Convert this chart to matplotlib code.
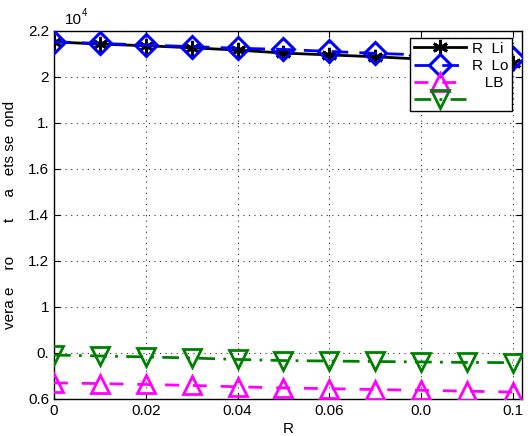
import matplotlib
matplotlib.use("Agg")
import matplotlib.pyplot as plt
import numpy as np

plt.rcParams['font.family'] = ['Liberation Sans', 'DejaVu Sans']

x = [0, 0.01, 0.02, 0.03, 0.04, 0.05, 0.06, 0.07, 0.08, 0.09, 0.1]
r_li = [2.153, 2.143, 2.136, 2.127, 2.117, 2.104, 2.096, 2.088, 2.078, 2.070, 2.060]
r_lo = [2.153, 2.146, 2.139, 2.132, 2.125, 2.120, 2.111, 2.103, 2.096, 2.088, 2.081]
lb = [0.670, 0.667, 0.663, 0.659, 0.653, 0.648, 0.645, 0.641, 0.638, 0.634, 0.630]
green = [0.791, 0.787, 0.783, 0.778, 0.772, 0.767, 0.765, 0.763, 0.761, 0.759, 0.758]
scale = 1e4

yticks = [0.6, 0.8, 1.0, 1.2, 1.4, 1.6, 1.8, 2.0, 2.2]
ytick_labels = ["0.6", "0.", "1", "1.2", "1.4", "1.6", "1.", "2", "2.2"]
xticks = [0, 0.02, 0.04, 0.06, 0.08, 0.1]
xtick_labels = ["0", "0.02", "0.04", "0.06", "0.0", "0.1"]
legend_labels = ["R  Li", "R  Lo", "   LB", " "]
ylabel_text = "vera e    ro        t     a   ets se  ond"

fig = plt.figure(figsize=(5.31, 4.36), dpi=100)
ax = fig.add_axes([0.1017, 0.0849, 0.8813, 0.844])

xa = np.array(x)
h1, = ax.plot(xa, np.array(r_li) * scale, color='black', lw=2, ls='-', marker=(6, 2, 0),
              ms=11, mew=2, zorder=3)
h2, = ax.plot(xa, np.array(r_lo) * scale, color='#0000ff', lw=2, ls=(0, (6, 4)), marker='D',
              ms=11, mew=2.2, mfc='none', zorder=4)
h3, = ax.plot(xa, np.array(lb) * scale, color='#ff00ff', lw=2, ls=(0, (5, 5)), marker='^',
              ms=13, mew=2, mfc='none', zorder=3)
h4, = ax.plot(xa, np.array(green) * scale, color='#008000', lw=2, ls=(0, (6, 3, 1, 3)), marker='v',
              ms=13, mew=2, mfc='none', zorder=3)

ax.set_xlim(0, 0.102)
ax.set_ylim(0.6 * scale, 2.2 * scale)
ax.set_xticks(xticks)
ax.set_xticklabels(xtick_labels)
ax.set_yticks([v * scale for v in yticks])
ax.set_yticklabels(ytick_labels)
ax.tick_params(direction='in', labelsize=11, length=4, top=True, right=True)
ax.grid(True, ls=(0, (1, 4)), color='#333333', lw=0.8)
for s in ax.spines.values():
    s.set_linewidth(1.0)

ax.set_xlabel("R", fontsize=11, labelpad=3)
ax.set_ylabel(ylabel_text, fontsize=11, labelpad=8)

fig.text(65 / 531, 1 - 20 / 436, "10", fontsize=11, ha='left', va='center')
fig.text(82 / 531, 1 - 13 / 436, "4", fontsize=7, ha='left', va='center')

leg = ax.legend([h1, h2, h3, h4], legend_labels, loc='upper right',
                bbox_to_anchor=(512 / 531, 1 - 38 / 436),
                bbox_transform=fig.transFigure, fontsize=11, frameon=True, fancybox=False,
                edgecolor='black', handlelength=3.4, borderpad=0.25, labelspacing=0.2,
                handletextpad=0.4, borderaxespad=0, framealpha=1)
leg.get_frame().set_linewidth(1.0)

fig.savefig("out.png", dpi=100)
